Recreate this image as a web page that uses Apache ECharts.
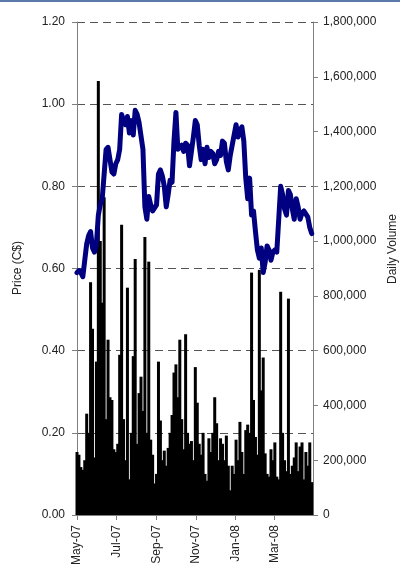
<!DOCTYPE html>
<html><head><meta charset="utf-8">
<script src="https://cdn.jsdelivr.net/npm/echarts@6/dist/echarts.min.js"></script>
<style>html,body{margin:0;padding:0;background:#fff}#c{width:400px;height:571px}</style>
</head><body><div id="c"></div><script>
var dates = [
'2007-05-01','2007-05-04','2007-05-07','2007-05-10','2007-05-13','2007-05-16','2007-05-19','2007-05-22','2007-05-25','2007-05-28','2007-05-31',
'2007-06-03','2007-06-06','2007-06-09','2007-06-12','2007-06-15','2007-06-18','2007-06-21','2007-06-24','2007-06-27','2007-06-30',
'2007-07-03','2007-07-06','2007-07-09','2007-07-12','2007-07-15','2007-07-18','2007-07-21','2007-07-24','2007-07-27','2007-07-30',
'2007-08-02','2007-08-05','2007-08-08','2007-08-11','2007-08-14','2007-08-17','2007-08-20','2007-08-23','2007-08-26','2007-08-29',
'2007-09-01','2007-09-04','2007-09-07','2007-09-10','2007-09-13','2007-09-16','2007-09-19','2007-09-22','2007-09-25','2007-09-28',
'2007-10-01','2007-10-04','2007-10-07','2007-10-10','2007-10-13','2007-10-16','2007-10-19','2007-10-22','2007-10-25','2007-10-28','2007-10-31',
'2007-11-03','2007-11-06','2007-11-09','2007-11-12','2007-11-15','2007-11-18','2007-11-21','2007-11-24','2007-11-27','2007-11-30',
'2007-12-03','2007-12-06','2007-12-09','2007-12-12','2007-12-15','2007-12-18','2007-12-21','2007-12-24','2007-12-27','2007-12-30',
'2008-01-02','2008-01-05','2008-01-08','2008-01-11','2008-01-14','2008-01-17','2008-01-20','2008-01-23','2008-01-26','2008-01-29',
'2008-02-01','2008-02-04','2008-02-07','2008-02-10','2008-02-13','2008-02-16','2008-02-19','2008-02-22','2008-02-25','2008-02-28',
'2008-03-02','2008-03-05','2008-03-08','2008-03-11','2008-03-14','2008-03-17','2008-03-20','2008-03-23','2008-03-26','2008-03-29',
'2008-04-01','2008-04-04','2008-04-07','2008-04-10','2008-04-13','2008-04-16','2008-04-19','2008-04-22','2008-04-25','2008-04-28'
];
var price = [
0.59,0.595,0.59,0.58,0.62,0.66,0.68,0.69,0.65,0.64,
0.66,0.73,0.755,0.77,0.83,0.89,0.895,0.865,0.835,0.83,
0.855,0.865,0.89,0.975,0.96,0.95,0.97,0.93,0.96,0.925,
0.985,0.975,0.955,0.955,0.89,0.75,0.72,0.775,0.755,0.74,
0.74,0.755,0.83,0.84,0.825,0.80,0.75,0.78,0.815,0.81,
0.91,0.98,0.89,0.895,0.90,0.885,0.905,0.90,0.85,0.885,
0.92,0.96,0.95,0.90,0.865,0.89,0.855,0.895,0.87,0.885,
0.88,0.855,0.865,0.885,0.875,0.91,0.905,0.86,0.84,0.875,
0.90,0.925,0.95,0.92,0.935,0.945,0.91,0.82,0.77,0.82,
0.73,0.74,0.69,0.645,0.625,0.65,0.59,0.615,0.655,0.645,
0.62,0.64,0.645,0.64,0.72,0.80,0.78,0.745,0.73,0.79,
0.78,0.745,0.72,0.77,0.75,0.72,0.735,0.74,0.74,0.725,
0.70,0.685
];
var volume = [
230000,220000,175000,165000,200000,370000,300000,850000,680000,210000,
560000,1585000,1000000,775000,1160000,350000,640000,430000,420000,240000,
230000,260000,585000,1060000,350000,200000,830000,130000,300000,580000,
935000,260000,445000,505000,380000,1015000,300000,925000,275000,220000,
115000,150000,560000,345000,200000,235000,180000,245000,300000,365000,
520000,550000,430000,640000,350000,240000,660000,300000,260000,270000,
200000,540000,410000,260000,220000,300000,150000,125000,280000,230000,
300000,430000,335000,200000,280000,260000,200000,290000,180000,90000,
180000,150000,275000,200000,340000,230000,150000,310000,330000,300000,
885000,420000,285000,220000,895000,455000,575000,225000,150000,140000,
240000,200000,265000,140000,130000,815000,300000,200000,160000,790000,
150000,180000,210000,265000,160000,250000,265000,130000,230000,180000,
265000,120000
];
var tickDates = ['2007-05-01','2007-07-01','2007-09-01','2007-11-01','2008-01-01','2008-03-01'];
var tickLabels = ['May-07','Jul-07','Sep-07','Nov-07','Jan-08','Mar-08'];
var priceTicks = [0, 1.2, 0.2];
var volumeTicks = [0, 1800000, 200000];

var DAY = 86400000;
var origin = Date.UTC(2007,4,1);
function dn(s){var p=s.split('-');return Math.round((Date.UTC(+p[0],+p[1]-1,+p[2])-origin)/DAY);}
var tickDays = tickDates.map(dn);
function fmtMonth(v){
  for(var k=0;k<tickDays.length;k++){ if(Math.abs(tickDays[k]-v)<0.5) return tickLabels[k]; }
  return '';
}
var FONT='Liberation Sans, Arial, sans-serif';
var TXT='#222';
var AX='#7f7f7f';
var chart = echarts.init(document.getElementById('c'));
chart.setOption({
  animation:false,
  backgroundColor:'#fff',
  grid:{left:77,right:87,top:22,bottom:56,containLabel:false},
  xAxis:{type:'value',min:0,max:dn('2008-04-30'),
    axisLine:{show:true,onZero:false,lineStyle:{color:AX,width:1}},
    axisTick:{show:true,customValues:tickDays,length:5,lineStyle:{color:AX}},
    axisLabel:{customValues:tickDays,rotate:90,margin:10,fontSize:12,fontFamily:FONT,color:TXT,formatter:fmtMonth,hideOverlap:false},
    splitLine:{show:false}},
  yAxis:[
    {type:'value',min:priceTicks[0],max:priceTicks[1],interval:priceTicks[2],position:'left',
     axisLine:{show:true,lineStyle:{color:AX}},
     axisTick:{show:true,length:5,lineStyle:{color:AX}},
     axisLabel:{margin:12,fontSize:12,fontFamily:FONT,color:TXT,formatter:function(v){return v.toFixed(2);}},
     splitLine:{show:true,lineStyle:{color:'#555',type:[8,5],width:1}}},
    {type:'value',min:volumeTicks[0],max:volumeTicks[1],interval:volumeTicks[2],position:'right',
     axisLine:{show:true,lineStyle:{color:AX}},
     axisTick:{show:true,length:5,lineStyle:{color:AX}},
     axisLabel:{margin:10,fontSize:12,fontFamily:FONT,color:TXT,formatter:function(v){return v.toLocaleString('en-US');}},
     splitLine:{show:false}}
  ],
  graphic:[
    {type:'rect',shape:{x:0,y:0,width:400,height:2},style:{fill:'#5b79a9'}},
    {type:'text',x:18,y:268,rotation:Math.PI/2,style:{text:'Price (C$)',align:'center',verticalAlign:'middle',font:'12px '+FONT,fill:TXT}},
    {type:'text',x:393,y:249,rotation:Math.PI/2,style:{text:'Daily Volume',align:'center',verticalAlign:'middle',font:'12px '+FONT,fill:TXT}}
  ],
  series:[
    {type:'bar',yAxisIndex:1,barWidth:3,itemStyle:{color:'#000'},silent:true,
     data:dates.map(function(d,i){return [dn(d),volume[i]];})},
    {type:'line',yAxisIndex:0,showSymbol:false,silent:true,z:5,
     lineStyle:{width:5,color:'#000080',join:'round',cap:'round'},
     data:dates.map(function(d,i){return [dn(d),price[i]];})}
  ]
});
</script></body></html>
